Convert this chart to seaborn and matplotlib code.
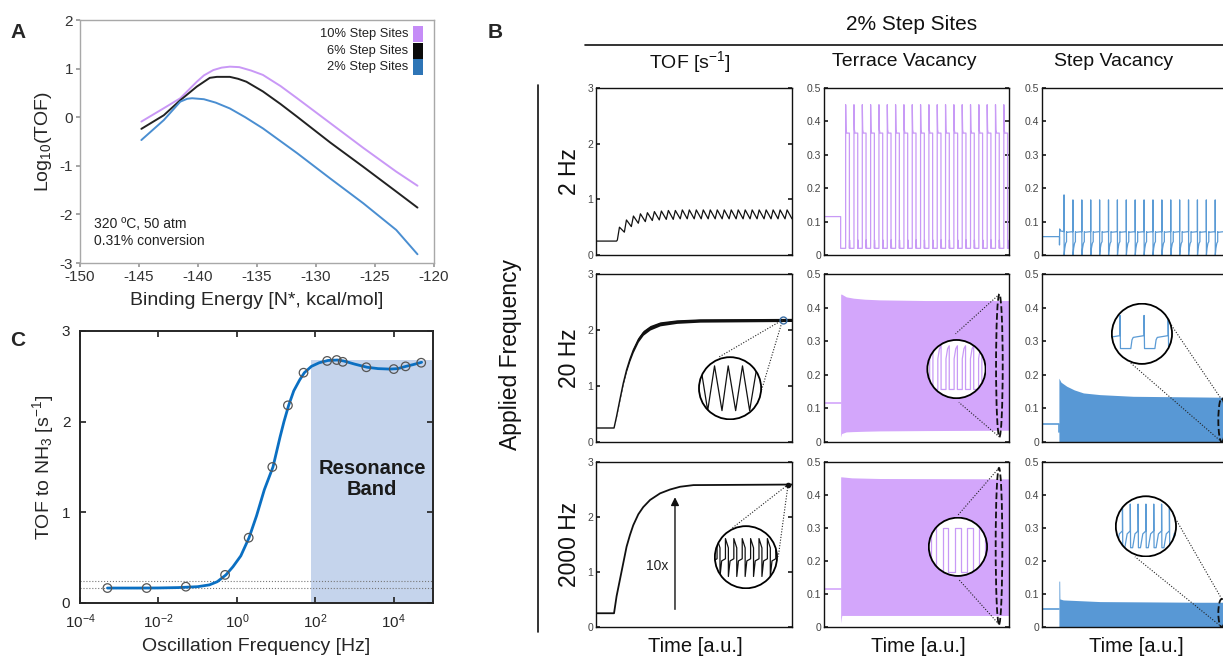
import numpy as np
import pandas as pd
import matplotlib
matplotlib.use("Agg")
import matplotlib.pyplot as plt
from matplotlib.patches import Circle, Ellipse, Rectangle
from matplotlib.lines import Line2D
import seaborn as sns

W, H = 1223, 658

# ---------------- panel A : log10(TOF) vs binding energy
a_x_10 = [-144.8, -143.0, -141.5, -140.1, -139.5, -138.7, -138.0, -137.3, -136.5, -135.5, -134.5, -133.0, -131.6, -128.8, -126.0, -123.2, -121.4]
a_y_10 = [-0.09, 0.17, 0.39, 0.73, 0.86, 0.97, 1.02, 1.04, 1.03, 0.96, 0.87, 0.64, 0.39, -0.12, -0.63, -1.12, -1.41]
a_x_6 = [-144.8, -142.9, -141.5, -140.1, -139.0, -138.4, -137.3, -136.6, -135.9, -134.5, -133.0, -131.6, -128.8, -126.0, -123.2, -121.4]
a_y_6 = [-0.24, 0.04, 0.35, 0.63, 0.81, 0.83, 0.83, 0.79, 0.73, 0.53, 0.27, 0.01, -0.52, -1.02, -1.53, -1.86]
a_x_2 = [-144.8, -142.9, -141.5, -140.9, -140.5, -139.5, -138.5, -137.3, -136.0, -134.5, -131.6, -128.8, -126.0, -123.2, -121.4]
a_y_2 = [-0.47, -0.06, 0.32, 0.38, 0.39, 0.37, 0.30, 0.18, 0.00, -0.23, -0.74, -1.26, -1.77, -2.32, -2.82]
a_series = ["10% Step Sites", "6% Step Sites", "2% Step Sites"]
a_colors = ["#c998f6", "#222222", "#4a8ed1"]
a_legend_colors = ["#c58cf7", "#0a0a0a", "#2e75b6"]

# ---------------- panel C : TOF vs oscillation frequency
c_curve_logf = [-3.3, -2.5, -2.0, -1.5, -1.0, -0.7, -0.5, -0.28, -0.1, 0.1, 0.31, 0.5, 0.7, 0.92, 1.1, 1.2,
                1.32, 1.45, 1.6, 1.72, 1.9, 2.1, 2.32, 2.56, 2.72, 3.0, 3.32, 3.6, 3.9, 4.1, 4.31, 4.5, 4.71]
c_curve_tof = [0.165, 0.165, 0.166, 0.17, 0.18, 0.20, 0.235, 0.31, 0.40, 0.52, 0.72, 0.96, 1.25, 1.50, 1.83, 2.00,
               2.18, 2.34, 2.46, 2.54, 2.61, 2.65, 2.675, 2.68, 2.67, 2.635, 2.60, 2.585, 2.58, 2.585, 2.61, 2.63, 2.655]
c_pts_freq = [5e-4, 5e-3, 5e-2, 0.5, 2, 8, 20, 50, 200, 350, 500, 2000, 1e4, 2e4, 5e4]
c_pts_tof = [0.165, 0.165, 0.18, 0.31, 0.72, 1.50, 2.18, 2.54, 2.67, 2.68, 2.66, 2.60, 2.58, 2.61, 2.65]
c_band_lo, c_band_hi, c_band_top = 76, 1e5, 2.68
c_ref_levels = [0.165, 0.245]

# ---------------- panel B : transients (time axis 0..100 a.u.)
# 2 Hz TOF sawtooth
tof2_peaks = [0.50, 0.63, 0.70, 0.74, 0.76, 0.78, 0.79, 0.80, 0.80, 0.81, 0.81, 0.81, 0.81,
              0.81, 0.81, 0.81, 0.81, 0.81, 0.81, 0.81, 0.81, 0.81, 0.81, 0.81, 0.81]
tof2_troughs = [0.41, 0.51, 0.57, 0.60, 0.62, 0.63, 0.64, 0.64, 0.65, 0.65, 0.65, 0.65, 0.65,
                0.65, 0.65, 0.65, 0.65, 0.65, 0.65, 0.65, 0.65, 0.65, 0.65, 0.65, 0.65]
# 2 Hz terrace vacancy, one cycle
terr2_phase = [0.0, 0.0, 0.05, 0.12, 0.45, 0.45, 0.47, 0.52, 1.0]
terr2_level = [0.02, 0.45, 0.375, 0.365, 0.365, 0.02, 0.045, 0.02, 0.02]
# 2 Hz step vacancy, one cycle (spike level from list)
step2_phase = [0.0, 0.0, 0.01, 0.08, 0.18, 0.28, 0.28, 0.33, 1.0]
step2_level = [0.07, None, 0.0, 0.02, 0.035, 0.04, 0.07, 0.068, 0.07]
step2_spikes = [0.18] + [0.165] * 18

# 20 Hz / 2000 Hz TOF
tof20_t = [0, 9.2, 10.5, 12.2, 13.9, 15.6, 17.3, 19.0, 21.6, 24.1, 27.6, 32.7, 41.2, 53.1, 100]
tof20_y = [0.25, 0.25, 0.46, 0.76, 1.05, 1.29, 1.48, 1.64, 1.83, 1.95, 2.04, 2.11, 2.15, 2.17, 2.18]
tof20_half = [0, 0, 0.008, 0.015, 0.022, 0.03, 0.035, 0.04, 0.042, 0.042, 0.04, 0.036, 0.032, 0.03, 0.028]
tof2000_t = [0, 9.2, 10.5, 12.2, 13.9, 15.6, 17.3, 19.0, 21.6, 24.1, 27.6, 32.7, 37.8, 42.9, 49.7, 100]
tof2000_y = [0.25, 0.25, 0.56, 0.86, 1.16, 1.46, 1.67, 1.85, 2.05, 2.18, 2.31, 2.43, 2.50, 2.55, 2.58, 2.59]

# terrace vacancy envelopes
terr20_t = [9.0, 9.5, 12, 16, 22, 30, 55, 100]
terr20_hi = [0.44, 0.44, 0.432, 0.428, 0.425, 0.423, 0.421, 0.421]
terr20_lo = [0.015, 0.025, 0.030, 0.031, 0.032, 0.033, 0.034, 0.035]
terr2000_t = [9.0, 9.6, 15, 30, 100]
terr2000_hi = [0.455, 0.455, 0.452, 0.45, 0.449]
terr2000_lo = [0.012, 0.035, 0.035, 0.035, 0.035]
# step vacancy envelopes
step20_t = [8.9, 10, 13, 17, 21.8, 30.5, 48, 83, 100]
step20_hi = [0.19, 0.178, 0.166, 0.155, 0.146, 0.141, 0.136, 0.134, 0.133]
step2000_t = [8.9, 9.3, 9.4, 11.2, 30.5, 83, 100]
step2000_hi = [0.139, 0.139, 0.085, 0.082, 0.077, 0.075, 0.075]
terr_initial, step_initial, tof_initial = 0.115, 0.055, 0.25

# zoom-circle contents (circle units, radius 1)
zz_tof20_x = [-1.0, -0.95, -0.72, -0.5, -0.26, -0.06, 0.18, 0.4, 0.63, 0.87, 1.0]
zz_tof20_y = [0.2, 0.72, -0.72, 0.72, -0.72, 0.72, -0.72, 0.72, -0.72, 0.72, 0.2]
zz_tof2000_phase = [0.0, 0.0, 0.35, 0.35, 0.55, 1.0]
zz_tof2000_level = [-0.05, 0.6, 0.3, -0.62, -0.12, -0.05]
zz_terr20_phase = [0.0, 0.0, 0.2, 0.4, 0.4, 1.0]
zz_terr20_level = [-0.7, 0.35, 0.7, 0.8, -0.7, -0.7]
zz_terr2000_phase = [0.0, 0.0, 0.45, 0.45, 1.0]
zz_terr2000_level = [-0.85, 0.65, 0.65, -0.85, -0.85]
zz_step20_phase = [0.0, 0.0, 0.02, 0.45, 0.5, 0.55, 1.0]
zz_step20_level = [-0.06, 0.61, -0.49, -0.49, -0.2, -0.12, -0.06]
zz_step2000_phase = [0.0, 0.0, 0.04, 0.3, 0.6, 1.0]
zz_step2000_level = [-0.15, 0.74, -0.71, -0.71, -0.25, -0.15]

PURPLE_LINE = "#c89af6"
PURPLE_FILL = "#d3a6fb"
BLUE_LINE = "#5b9bd5"
BLUE_FILL = "#5898d5"


def tile_cycle(t0, period, n, phase, level, spikes=None):
    ts, ys = [], []
    for i in range(n):
        for p, v in zip(phase, level):
            ts.append(t0 + (i + p) * period)
            ys.append(spikes[i] if v is None else v)
    return ts, ys


sns.set_theme(style="white")
plt.rcParams['font.family'] = ['Liberation Sans', 'DejaVu Sans']
plt.rcParams['mathtext.fontset'] = 'custom'
plt.rcParams['mathtext.rm'] = 'Liberation Sans'
plt.rcParams['mathtext.it'] = 'Liberation Sans:italic'
plt.rcParams['mathtext.bf'] = 'Liberation Sans:bold'
plt.rcParams['axes.unicode_minus'] = False

fig = plt.figure(figsize=(W / 100, H / 100), dpi=100)


def rect(l, t, r, b):
    return [l / W, 1 - b / H, (r - l) / W, (b - t) / H]


def ftext(x, y, s, **kw):
    fig.text(x / W, 1 - y / H, s, **kw)


def fline(x1, y1, x2, y2, **kw):
    fig.add_artist(Line2D([x1 / W, x2 / W], [1 - y1 / H, 1 - y2 / H], transform=fig.transFigure, **kw))


# ================= panel A
axA = fig.add_axes(rect(80, 20, 434, 263))
dfA = pd.concat([
    pd.DataFrame({"be": a_x_10, "logtof": a_y_10, "series": a_series[0]}),
    pd.DataFrame({"be": a_x_6, "logtof": a_y_6, "series": a_series[1]}),
    pd.DataFrame({"be": a_x_2, "logtof": a_y_2, "series": a_series[2]}),
])
sns.lineplot(data=dfA, x="be", y="logtof", hue="series", palette=a_colors, lw=1.4,
             legend=False, ax=axA, estimator=None, sort=False)
axA.set_xlim(-150, -120)
axA.set_ylim(-3, 2)
axA.set_xticks(range(-150, -119, 5))
axA.set_yticks(range(-3, 3))
axA.tick_params(axis="both", labelsize=11, colors="#333333", direction="out", length=3,
                bottom=True, left=True, pad=2)
axA.tick_params(color="#999999")
for s in axA.spines.values():
    s.set_color("#a8a8a8")
    s.set_linewidth(1.0)
axA.set_xlabel("Binding Energy [N*, kcal/mol]", fontsize=14, labelpad=6)
axA.set_ylabel("Log$_\\mathregular{10}$(TOF)", fontsize=14, labelpad=4)
for i, (name, col) in enumerate(zip(a_series, a_legend_colors)):
    yc = [0.942, 0.874, 0.807][i]
    axA.text(0.927, yc, name, transform=axA.transAxes, ha="right", va="center", fontsize=9.3, color="#222")
    axA.add_patch(Rectangle((0.941, yc - 0.033), 0.028, 0.066, transform=axA.transAxes, color=col, lw=0))
axA.text(0.04, 0.06, "320 ºC, 50 atm\n0.31% conversion", transform=axA.transAxes,
         fontsize=10, color="#222", va="bottom", linespacing=1.3)

# ================= panel C
axC = fig.add_axes(rect(80, 331, 433, 603))
axC.set_xscale("log")
axC.fill_between([c_band_lo, c_band_hi], 0, c_band_top, color="#c5d4ec", lw=0, zorder=0)
for lev in c_ref_levels:
    axC.axhline(lev, color="#777777", ls=":", lw=0.8, zorder=1)
dfC = pd.DataFrame({"freq": [10 ** v for v in c_curve_logf], "tof": c_curve_tof})
sns.lineplot(data=dfC, x="freq", y="tof", color="#0a6fc2", lw=2.0, ax=axC, zorder=2)
sns.scatterplot(x=c_pts_freq, y=c_pts_tof, ax=axC, s=38, facecolor="none", edgecolor="#555555",
                linewidth=0.9, zorder=3)
axC.set_xlim(1e-4, 1e5)
axC.set_ylim(0, 3)
axC.set_xticks([1e-4, 1e-2, 1, 1e2, 1e4])
axC.minorticks_off()
axC.set_yticks([0, 1, 2, 3])
axC.tick_params(axis="both", labelsize=11, colors="#262626", direction="in", length=4,
                bottom=True, left=True, top=True, right=True)
axC.tick_params(axis="x", pad=7)
axC.tick_params(axis="y", pad=7)
for s in axC.spines.values():
    s.set_color("#262626")
    s.set_linewidth(1.4)
axC.set_xlabel("Oscillation Frequency [Hz]", fontsize=14, labelpad=5)
axC.set_ylabel("TOF to NH$_\\mathregular{3}$ [s$^\\mathregular{-1}$]", fontsize=14, labelpad=4)
axC.text(10 ** 3.45, 1.37, "Resonance\nBand", ha="center", va="center", fontsize=14.5,
         fontweight="bold", color="#1a1a1a", linespacing=1.15)

# ================= panel B
cols = [(596, 792), (824, 1009), (1042, 1232)]
rows = [(88, 255), (274, 442), (462, 627)]
axB = {}
for r, (t, b) in enumerate(rows):
    for c, (l, rr) in enumerate(cols):
        ax = fig.add_axes(rect(l, t, rr, b))
        ax.set_xlim(0, 100)
        if c == 0:
            ax.set_ylim(0, 3)
            ax.set_yticks([0, 1, 2, 3])
            ax.set_yticklabels(["0", "1", "2", "3"])
        else:
            ax.set_ylim(0, 0.5)
            ax.set_yticks([0, 0.1, 0.2, 0.3, 0.4, 0.5])
            ax.set_yticklabels(["0", "0.1", "0.2", "0.3", "0.4", "0.5"])
        ax.set_xticks([])
        ax.tick_params(axis="y", direction="in", length=3, left=True, right=True,
                       labelsize=7.5, labelcolor="#444444", color="#222", pad=2)
        for s in ax.spines.values():
            s.set_color("#111111")
            s.set_linewidth(1.0)
        axB[(r, c)] = (ax, rr - l, b - t)


def add_zoom(key, cx, cy, r_px, xs, ys, color, lw=0.9):
    ax, wpx, hpx = axB[key]
    w, h = 2 * r_px / wpx, 2 * r_px / hpx
    iax = ax.inset_axes([cx - w / 2, cy - h / 2, w, h])
    iax.set_xlim(-1.03, 1.03)
    iax.set_ylim(-1.03, 1.03)
    iax.axis("off")
    iax.set_zorder(5)
    circ = Circle((0, 0), 1, facecolor="white", edgecolor="none", zorder=1)
    iax.add_patch(circ)
    ln, = iax.plot(xs, ys, color=color, lw=lw, zorder=2)
    ln.set_clip_path(circ)
    iax.add_patch(Circle((0, 0), 1, fill=False, edgecolor="black", lw=1.3, zorder=3))


def connectors(ax, segs):
    for (x1, y1), (x2, y2) in segs:
        ax.plot([x1, x2], [y1, y2], color="#222222", ls=(0, (1, 1.5)), lw=0.8, zorder=3)


def dashed_ellipse(ax, tc, y0, y1):
    ax.add_patch(Ellipse((tc, (y0 + y1) / 2), 3.6, y1 - y0, fill=False, ls="--", lw=1.3,
                         edgecolor="#111111", zorder=4))


# --- row 1 : 2 Hz
ax = axB[(0, 0)][0]
t_tof2, y_tof2 = [0, 10.5, 10.9], [tof_initial, tof_initial, 0.27]
P = (100 - 10.9) / len(tof2_peaks)
for i, (pk, tr) in enumerate(zip(tof2_peaks, tof2_troughs)):
    t_tof2 += [10.9 + (i + 0.3) * P, 10.9 + (i + 1) * P]
    y_tof2 += [pk, tr]
ax.plot(t_tof2, y_tof2, color="#111111", lw=0.9)

ax = axB[(0, 1)][0]
tt, yy = tile_cycle(11.7, 4.5, 20, terr2_phase, terr2_level)
ax.plot([0, 9.0, 9.0, 11.7] + tt, [terr_initial, terr_initial, 0.02, 0.02] + yy, color=PURPLE_LINE, lw=0.9)

ax = axB[(0, 2)][0]
tt, yy = tile_cycle(11.6, 4.68, 19, step2_phase, step2_level, spikes=step2_spikes)
ax.plot([0, 9.2, 9.2, 9.3, 9.8, 11.6] + tt, [step_initial, step_initial, 0.03, 0.078, 0.072, 0.07] + yy,
        color=BLUE_LINE, lw=0.9)

# --- row 2 : 20 Hz
ax = axB[(1, 0)][0]
lo = [m - h for m, h in zip(tof20_y, tof20_half)]
hi = [m + h for m, h in zip(tof20_y, tof20_half)]
ax.fill_between(tof20_t, lo, hi, color="#111111", lw=0)
ax.plot(tof20_t, tof20_y, color="#111111", lw=1.0)
connectors(ax, [((95.2, 2.18), (62.9, 1.52)), ((95.2, 2.18), (84.5, 0.93))])
ax.plot([95.2], [2.18], marker="o", ms=5, mfc="none", mec="#3a6ea5", mew=1.0, zorder=4)
add_zoom((1, 0), 0.684, 0.32, 32, zz_tof20_x, zz_tof20_y, "#111111", lw=0.9)

ax = axB[(1, 1)][0]
ax.plot([0, 9.0], [terr_initial, terr_initial], color=PURPLE_FILL, lw=1.2)
ax.fill_between(terr20_t, terr20_lo, terr20_hi, color=PURPLE_FILL, lw=0)
dashed_ellipse(ax, 94.8, 0.015, 0.44)
connectors(ax, [((94.8, 0.44), (71.1, 0.322)), ((94.8, 0.015), (72.9, 0.118))])
xs, ys = tile_cycle(-1.2, 0.28, 9, zz_terr20_phase, zz_terr20_level)
add_zoom((1, 1), 0.716, 0.434, 30, xs, ys, PURPLE_LINE)

ax = axB[(1, 2)][0]
ax.plot([0, 8.9, 8.9], [step_initial, step_initial, 0.03], color=BLUE_LINE, lw=1.2)
ax.fill_between(step20_t, 0, step20_hi, color=BLUE_FILL, lw=0)
dashed_ellipse(ax, 94.6, 0.0, 0.13)
connectors(ax, [((94.6, 0.0), (46.7, 0.235)), ((94.6, 0.126), (66.5, 0.361))])
xs, ys = tile_cycle(-0.73 - 0.8, 0.8, 4, zz_step20_phase, zz_step20_level)
add_zoom((1, 2), 0.526, 0.644, 31, xs, ys, BLUE_LINE)

# --- row 3 : 2000 Hz
ax = axB[(2, 0)][0]
ax.plot(tof2000_t, tof2000_y, color="#111111", lw=1.3)
ax.annotate("", xy=(40.3, 2.41), xytext=(40.3, 0.27),
            arrowprops=dict(arrowstyle="-|>", color="#111111", lw=1.0, mutation_scale=12))
ax.text(31, 1.1, "10x", fontsize=10, ha="center", va="center", color="#222")
connectors(ax, [((98.0, 2.59), (69.2, 1.79)), ((98.0, 2.59), (93.0, 1.28))])
ax.plot([98.0], [2.59], marker="o", ms=3, color="#111111", zorder=4)
xs, ys = tile_cycle(-1.2, 0.27, 9, zz_tof2000_phase, zz_tof2000_level)
add_zoom((2, 0), 0.765, 0.423, 32, xs, ys, "#111111")

ax = axB[(2, 1)][0]
ax.plot([0, 9.0], [terr_initial, terr_initial], color=PURPLE_FILL, lw=1.2)
ax.fill_between(terr2000_t, terr2000_lo, terr2000_hi, color=PURPLE_FILL, lw=0)
dashed_ellipse(ax, 94.6, 0.008, 0.482)
connectors(ax, [((94.6, 0.482), (72.4, 0.339)), ((94.6, 0.008), (73.0, 0.143))])
xs, ys = tile_cycle(-0.52 - 2 * 0.42, 0.42, 6, zz_terr2000_phase, zz_terr2000_level)
add_zoom((2, 1), 0.724, 0.486, 30, xs, ys, PURPLE_LINE)

ax = axB[(2, 2)][0]
ax.plot([0, 8.9], [step_initial, step_initial], color=BLUE_LINE, lw=1.2)
ax.fill_between(step2000_t, 0, step2000_hi, color=BLUE_FILL, lw=0)
dashed_ellipse(ax, 94.6, 0.0, 0.085)
connectors(ax, [((94.6, 0.0), (48.9, 0.213)), ((94.6, 0.085), (70.5, 0.326))])
xs, ys = tile_cycle(-1.3, 0.26, 11, zz_step2000_phase, zz_step2000_level)
add_zoom((2, 2), 0.547, 0.61, 31, xs, ys, BLUE_LINE)

# ---- panel B headings and annotations
ftext(912, 24, "2% Step Sites", fontsize=15, ha="center", va="center", color="#111")
fline(585, 45, 1223, 45, color="#111111", lw=1.2)
ftext(690, 62, "TOF [s$^\\mathregular{-1}$]", fontsize=14, ha="center", va="center", color="#111")
ftext(904, 62, "Terrace Vacancy", fontsize=14, ha="center", va="center", color="#111")
ftext(1114, 62, "Step Vacancy", fontsize=14, ha="center", va="center", color="#111")
for (t, b), lab in zip(rows, ["2 Hz", "20 Hz", "2000 Hz"]):
    ftext(570, (t + b) / 2, lab, fontsize=16.5, rotation=90, ha="center", va="center", color="#111")
ftext(510, 355, "Applied Frequency", fontsize=16.5, rotation=90, ha="center", va="center", color="#111")
fline(538, 85, 538, 632, color="#111111", lw=1.2)
for xc in [695, 918, 1136]:
    ftext(xc, 646, "Time [a.u.]", fontsize=14.5, ha="center", va="center", color="#111")

# ---- panel letters
ftext(18, 33, "A", fontsize=15, fontweight="bold", ha="center", va="center")
ftext(495, 33, "B", fontsize=15, fontweight="bold", ha="center", va="center")
ftext(18, 340, "C", fontsize=15, fontweight="bold", ha="center", va="center")

fig.savefig("out.png", dpi=100)
